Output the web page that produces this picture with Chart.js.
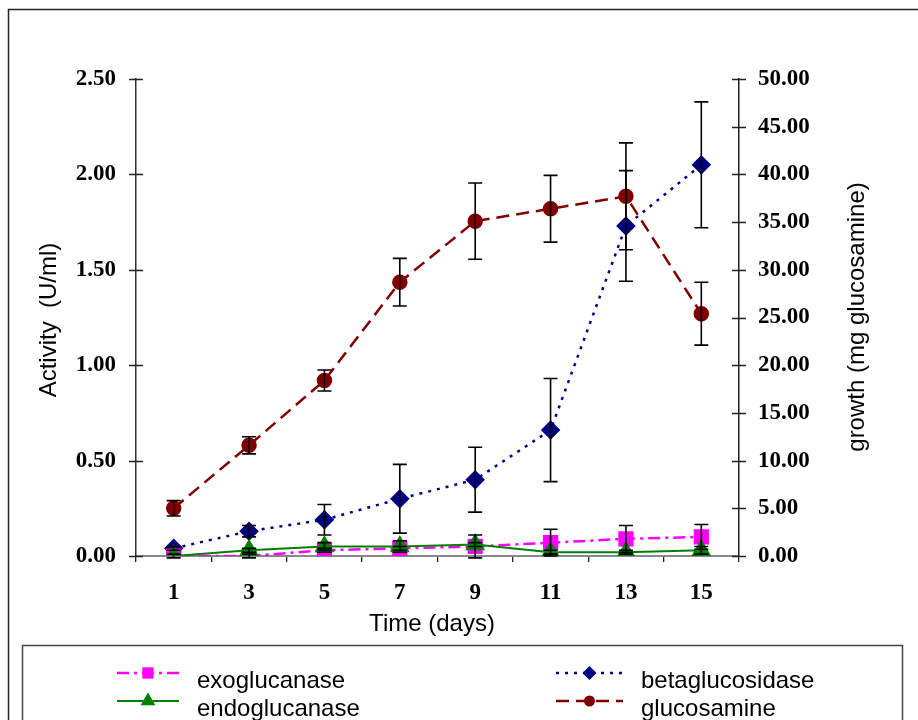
<!DOCTYPE html>
<html lang="en">
<head>
<meta charset="UTF-8">
<title>Enzyme activity and growth</title>
<script src="https://cdn.jsdelivr.net/npm/chart.js"></script>
<style>
    body { margin: 0; background: #fff; }
    #wrap { width: 918px; height: 720px; }
</style>
</head>
<body>
<div id="wrap"><canvas id="activityChart" width="918" height="720"></canvas></div>
<script>
const days = ['1', '3', '5', '7', '9', '11', '13', '15'];

// enzyme activity, U/ml (left axis)
const exoglucanase = [0.00, 0.00, 0.03, 0.04, 0.05, 0.07, 0.09, 0.10];
const exoErr = [0.01, 0.01, 0.01, 0.01, 0.06, 0.07, 0.07, 0.065];
const endoglucanase = [0.00, 0.03, 0.05, 0.05, 0.06, 0.02, 0.02, 0.03];
const endoErr = [0.00, 0.01, 0.02, 0.03, 0.01, 0.01, 0.01, 0.02];
const betaglucosidase = [0.04, 0.13, 0.19, 0.30, 0.40, 0.66, 1.73, 2.05];
const betaErr = [0.01, 0.03, 0.08, 0.18, 0.17, 0.27, 0.29, 0.33];

// growth, mg glucosamine (right axis)
const glucosamine = [5.0, 11.6, 18.4, 28.7, 35.1, 36.4, 37.7, 25.4];
const glucErr = [0.8, 0.9, 1.1, 2.5, 4.0, 3.5, 5.6, 3.3];

const activityTicks = [0, 0.5, 1.0, 1.5, 2.0, 2.5];
const growthTicks = [0, 5, 10, 15, 20, 25, 30, 35, 40, 45, 50];

const SANS = '"Liberation Sans", Arial, sans-serif';
const SERIF = '"Liberation Serif", "Times New Roman", serif';

function marker(ctx, style, x, y, r, color) {
    ctx.save();
    ctx.fillStyle = color;
    ctx.setLineDash([]);
    ctx.beginPath();
    if (style === 'rect') {
        const s = Math.SQRT1_2 * r;
        ctx.rect(x - s, y - s, 2 * s, 2 * s);
    } else if (style === 'rectRot') {
        ctx.moveTo(x - r, y); ctx.lineTo(x, y - r);
        ctx.lineTo(x + r, y); ctx.lineTo(x, y + r);
        ctx.closePath();
    } else if (style === 'triangle') {
        ctx.moveTo(x, y - r);
        ctx.lineTo(x + r * 0.866, y + r / 2);
        ctx.lineTo(x - r * 0.866, y + r / 2);
        ctx.closePath();
    } else {
        ctx.arc(x, y, r, 0, Math.PI * 2);
    }
    ctx.fill();
    ctx.restore();
}

// error bars from each dataset's "errors" array
const errorBars = {
    id: 'errorBars',
    afterDatasetsDraw(chart) {
        const ctx = chart.ctx;
        ctx.save();
        ctx.strokeStyle = '#000';
        ctx.lineWidth = 1.6;
        chart.data.datasets.forEach((ds, i) => {
            const meta = chart.getDatasetMeta(i);
            const scale = chart.scales[ds.yAxisID];
            meta.data.forEach((pt, j) => {
                const e = ds.errors[j];
                if (!e) return;
                const yTop = scale.getPixelForValue(ds.data[j] + e);
                const yBot = scale.getPixelForValue(Math.max(ds.data[j] - e, -0.02 * scale.max));
                ctx.beginPath();
                ctx.moveTo(pt.x, yTop); ctx.lineTo(pt.x, yBot);
                ctx.moveTo(pt.x - 7, yTop); ctx.lineTo(pt.x + 7, yTop);
                ctx.moveTo(pt.x - 7, yBot); ctx.lineTo(pt.x + 7, yBot);
                ctx.stroke();
            });
        });
        ctx.restore();
    }
};

// frame, axis ticks that cross the axis lines, titles and boxed legend
const decorations = {
    id: 'decorations',
    beforeDraw(chart) {
        const ctx = chart.ctx;
        ctx.save();
        ctx.fillStyle = '#fff';
        ctx.fillRect(0, 0, chart.width, chart.height);
        ctx.strokeStyle = '#222';
        ctx.lineWidth = 1.5;
        ctx.strokeRect(8.5, 9.5, chart.width + 20, chart.height + 20);
        ctx.strokeStyle = '#444';
        ctx.strokeRect(22.5, 645.5, 880, 100);
        ctx.restore();
    },
    afterDraw(chart) {
        const ctx = chart.ctx;
        const y = chart.scales.y, y2 = chart.scales.y2;
        ctx.save();
        ctx.strokeStyle = '#222';
        ctx.lineWidth = 1.3;
        ctx.beginPath();
        y.ticks.forEach(t => {
            const py = Math.round(y.getPixelForValue(t.value)) + 0.5;
            ctx.moveTo(y.right - 7, py); ctx.lineTo(y.right + 7, py);
        });
        y2.ticks.forEach(t => {
            const py = Math.round(y2.getPixelForValue(t.value)) + 0.5;
            ctx.moveTo(y2.left - 7, py); ctx.lineTo(y2.left + 7, py);
        });
        ctx.stroke();

        // axis titles
        ctx.fillStyle = '#000';
        ctx.font = '24px ' + SANS;
        ctx.textAlign = 'center';
        ctx.textBaseline = 'middle';
        ctx.fillText('Time (days)', 432, 624);
        ctx.save();
        ctx.translate(49, 320);
        ctx.rotate(-Math.PI / 2);
        ctx.fillText('Activity  (U/ml)', 0, 0);
        ctx.restore();
        ctx.save();
        ctx.translate(857, 317);
        ctx.rotate(-Math.PI / 2);
        ctx.fillText('growth (mg glucosamine)', 0, 0);
        ctx.restore();

        // legend, two columns
        const spots = [[117, 673], [117, 701], [556, 673], [556, 701]];
        chart.data.datasets.forEach((ds, i) => {
            const [lx, ly] = spots[i];
            const w = i < 2 ? 62 : 67;
            ctx.save();
            ctx.strokeStyle = ds.borderColor;
            ctx.lineWidth = ds.borderWidth;
            ctx.setLineDash(ds.borderDash);
            ctx.beginPath();
            ctx.moveTo(lx, ly); ctx.lineTo(lx + w, ly);
            ctx.stroke();
            ctx.restore();
            marker(ctx, ds.pointStyle, lx + w / 2, ly, ds.pointRadius - 1, ds.borderColor);
            ctx.fillStyle = '#000';
            ctx.textAlign = 'left';
            ctx.textBaseline = 'alphabetic';
            ctx.fillText(ds.label, lx + w + 18, ly + 15);
        });
        ctx.restore();
    }
};

const tickFont = { family: SERIF, size: 23, weight: 'bold' };

new Chart(document.getElementById('activityChart'), {
    type: 'line',
    data: {
        labels: days,
        datasets: [
            {
                label: 'exoglucanase', data: exoglucanase, errors: exoErr, yAxisID: 'y',
                borderColor: '#ff00ff', backgroundColor: '#ff00ff', borderWidth: 2.5,
                borderDash: [12, 5, 3, 5], pointStyle: 'rect', pointRadius: 9, order: 2
            },
            {
                label: 'endoglucanase', data: endoglucanase, errors: endoErr, yAxisID: 'y',
                borderColor: '#008000', backgroundColor: '#008000', borderWidth: 2,
                borderDash: [], pointStyle: 'triangle', pointRadius: 9.5, order: 1
            },
            {
                label: 'betaglucosidase', data: betaglucosidase, errors: betaErr, yAxisID: 'y',
                borderColor: '#000080', backgroundColor: '#000080', borderWidth: 2.5,
                borderDash: [3, 6], pointStyle: 'rectRot', pointRadius: 8, order: 3
            },
            {
                label: 'glucosamine', data: glucosamine, errors: glucErr, yAxisID: 'y2',
                borderColor: '#800000', backgroundColor: '#800000', borderWidth: 2.5,
                borderDash: [13, 7], pointStyle: 'circle', pointRadius: 6.5, order: 0
            }
        ]
    },
    options: {
        responsive: false,
        animation: false,
        layout: { padding: { top: 79, left: 0, right: 0, bottom: 0 } },
        plugins: { legend: { display: false }, tooltip: { enabled: false } },
        elements: {
            line: { tension: 0, fill: false },
            point: { borderWidth: 1, hoverRadius: 8 }
        },
        scales: {
            x: {
                offset: true,
                grid: { offset: true, drawOnChartArea: false, tickLength: 6, color: '#222', lineWidth: 1.3 },
                border: { color: '#888', width: 2 },
                ticks: { font: tickFont, color: '#000', padding: 17, maxRotation: 0 },
                afterFit: s => { s.height = 164; }
            },
            y: {
                position: 'left', min: 0, max: 2.5,
                afterBuildTicks: s => { s.ticks = activityTicks.map(v => ({ value: v })); },
                grid: { display: false },
                border: { color: '#333', width: 1.5 },
                ticks: { font: tickFont, color: '#000', padding: 12, callback: v => v.toFixed(2) },
                afterFit: s => { s.width = 136; }
            },
            y2: {
                position: 'right', min: 0, max: 50,
                afterBuildTicks: s => { s.ticks = growthTicks.map(v => ({ value: v })); },
                grid: { display: false },
                border: { color: '#222', width: 1.5 },
                ticks: { font: tickFont, color: '#000', padding: 11, callback: v => v.toFixed(2) },
                afterFit: s => { s.width = 179; }
            }
        }
    },
    plugins: [errorBars, decorations]
});
</script>
</body>
</html>
